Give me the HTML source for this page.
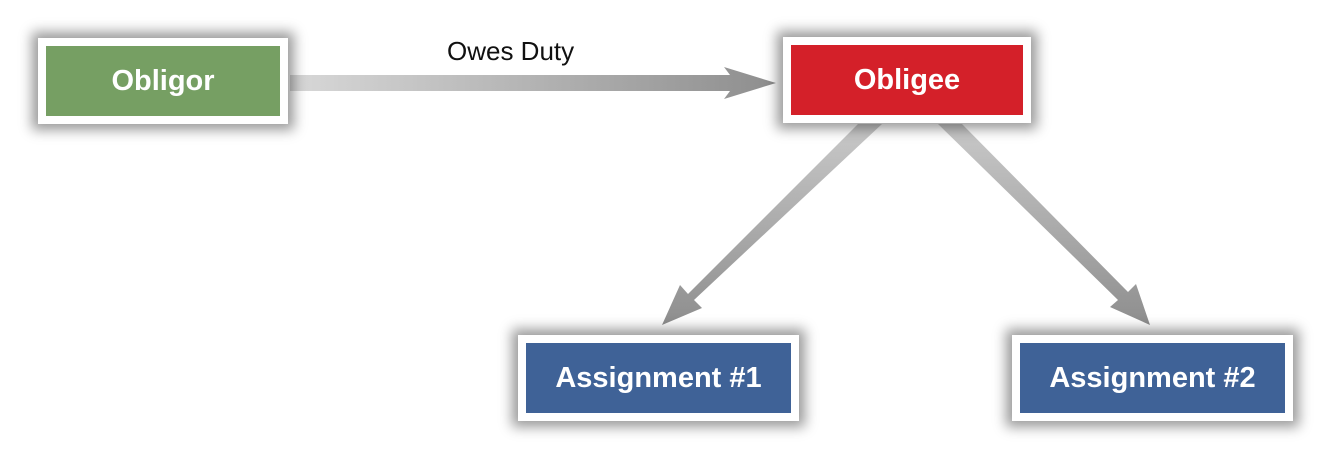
<!DOCTYPE html>
<html><head><meta charset="utf-8"><style>
html,body{margin:0;padding:0;background:#fff;}
body{width:1331px;height:458px;position:relative;overflow:hidden;font-family:"Liberation Sans",sans-serif;}
.box{position:absolute;background:#fff;box-shadow:0 0 12px 6px rgba(0,0,0,0.4);box-sizing:border-box;padding:8px;}
.in{width:100%;height:100%;display:flex;align-items:center;justify-content:center;color:#fff;font-weight:bold;font-size:29px;}
svg{position:absolute;left:0;top:0;}
.lbl{position:absolute;left:447px;top:36px;font-size:26px;color:#111;}
</style></head><body>
<svg width="1331" height="458">
<defs>
<linearGradient id="g1" x1="0" x2="1" y1="0" y2="0"><stop offset="0" stop-color="#d8d8d8"/><stop offset="1" stop-color="#8e8e8e"/></linearGradient>
<linearGradient id="g2" x1="0" x2="0" y1="0" y2="1"><stop offset="0" stop-color="#c9c9c9"/><stop offset="1" stop-color="#8e8e8e"/></linearGradient>
</defs>
<polygon points="290,75 730,75 724,67 776,83 724,99 730,91 290,91" fill="url(#g1)"/>
<g fill="url(#g2)">
<polygon points="858,124 882,124 694,300 702,308 662,325 680,285 688,294"/>
<polygon points="938,124 962,124 1128,292 1136,284 1150,325 1110,307 1118,300"/>
</g>
</svg>
<div class="lbl">Owes Duty</div>
<div class="box" style="left:38px;top:38px;width:250px;height:86px"><div class="in" style="background:#769f63">Obligor</div></div>
<div class="box" style="left:783px;top:37px;width:248px;height:86px"><div class="in" style="background:#d42029">Obligee</div></div>
<div class="box" style="left:518px;top:335px;width:281px;height:86px"><div class="in" style="background:#3f6297">Assignment #1</div></div>
<div class="box" style="left:1012px;top:335px;width:281px;height:86px"><div class="in" style="background:#3f6297">Assignment #2</div></div>
</body></html>
